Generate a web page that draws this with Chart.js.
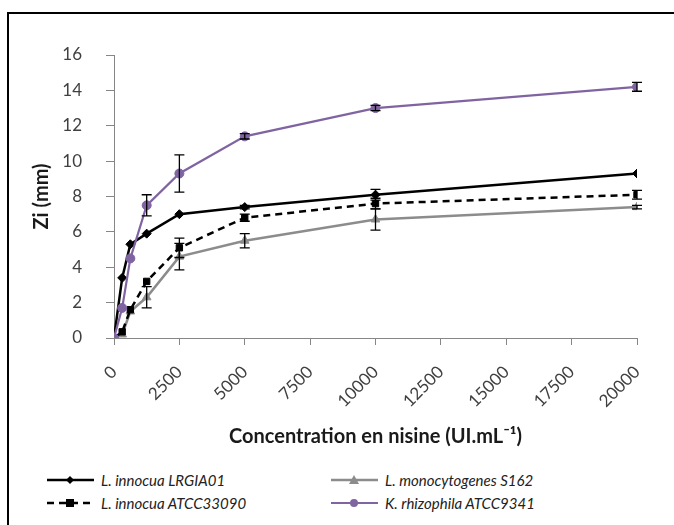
<!DOCTYPE html>
<html lang="fr">
<head>
<meta charset="UTF-8" />
<title>Zi vs nisine</title>
<script src="https://cdn.jsdelivr.net/npm/chart.js"></script>
<style>
  * { margin: 0; padding: 0; box-sizing: border-box; }
  body { width: 674px; height: 525px; background: #fff; position: relative; overflow: hidden; font-family: Lato, sans-serif; }
  .frame { position: absolute; left: 7px; top: 12px; width: 700px; height: 560px; border: 2px solid #000; }
  #wrap { position: absolute; left: 0; top: 0; width: 674px; height: 458px; }
  #legend { position: absolute; left: 46px; top: 471px; width: 620px; }
  .item { position: absolute; display: flex; align-items: center; font-style: italic; font-size: 15px; color: #222; white-space: nowrap; }
  .item svg { margin-right: 5px; }
</style>
</head>
<body>
<div class="frame"></div>
<div id="wrap"><canvas id="chart"></canvas></div>
<div id="legend"></div>

<script>
  // concentrations (UI/mL)
  const conc = [0, 312.5, 625, 1250, 2500, 5000, 10000, 20000];

  const seriesNames = ["L. innocua LRGIA01", "L. monocytogenes S162", "L. innocua ATCC33090", "K. rhizophila ATCC9341"];
  const lrgia01   = [0, 3.4, 5.3, 5.9, 7.0, 7.4, 8.1, 9.3];
  const s162      = [0, 0.2, 1.5, 2.3, 4.6, 5.5, 6.7, 7.4];
  const atcc33090 = [0, 0.35, 1.6, 3.2, 5.1, 6.8, 7.6, 8.1];
  const atcc9341  = [0, 1.7, 4.5, 7.5, 9.3, 11.4, 13.0, 14.2];

  // standard deviations
  const errLrgia01   = [0, 0, 0, 0, 0, 0.1, 0.3, 0];
  const errS162      = [0, 0, 0, 0.6, 0.75, 0.4, 0.6, 0.1];
  const errAtcc33090 = [0, 0, 0, 0, 0.55, 0.2, 0.3, 0.25];
  const errAtcc9341  = [0, 0, 0, 0.6, 1.05, 0.15, 0.15, 0.25];

  const xTicks = [0, 2500, 5000, 7500, 10000, 12500, 15000, 17500, 20000];

  const toPts = ys => conc.map((c, i) => ({ x: c, y: ys[i] }));

  const styles = [
    { color: "#000000", dash: [], point: "rectRot", radius: 4.5, width: 2.5 },
    { color: "#8c8c8c", dash: [], point: "triangle", radius: 5, width: 2.5 },
    { color: "#000000", dash: [7, 5], point: "rect", radius: 4.5, width: 2.5 },
    { color: "#8064a2", dash: [], point: "circle", radius: 4.5, width: 2.2 }
  ];
  const values = [lrgia01, s162, atcc33090, atcc9341];
  const errors = [errLrgia01, errS162, errAtcc33090, errAtcc9341];

  const datasets = seriesNames.map((name, i) => ({
    label: name,
    data: toPts(values[i]),
    borderColor: styles[i].color,
    backgroundColor: styles[i].color,
    borderWidth: styles[i].width,
    borderDash: styles[i].dash,
    pointStyle: styles[i].point,
    pointRadius: styles[i].radius,
    pointBorderWidth: 1,
    pointBorderColor: styles[i].color,
    pointBackgroundColor: styles[i].color,
    tension: 0,
    order: 4 - i,
    errs: errors[i]
  }));

  const errorBars = {
    id: "errorBars",
    afterDatasetsDraw(chart) {
      const { ctx, scales: { x, y } } = chart;
      ctx.save();
      ctx.strokeStyle = "#000";
      ctx.lineWidth = 1.3;
      chart.data.datasets.forEach(ds => {
        ds.data.forEach((p, i) => {
          const e = ds.errs[i];
          if (!e) return;
          const px = x.getPixelForValue(p.x);
          const top = y.getPixelForValue(p.y + e);
          const bot = y.getPixelForValue(p.y - e);
          ctx.beginPath();
          ctx.moveTo(px, top); ctx.lineTo(px, bot);
          ctx.moveTo(px - 5, top); ctx.lineTo(px + 5, top);
          ctx.moveTo(px - 5, bot); ctx.lineTo(px + 5, bot);
          ctx.stroke();
        });
      });
      ctx.restore();
    }
  };

  new Chart(document.getElementById("chart"), {
    type: "line",
    data: { datasets },
    plugins: [errorBars],
    options: {
      responsive: true,
      maintainAspectRatio: false,
      animation: false,
      layout: { padding: { left: 0, right: 37, top: 55, bottom: 0 } },
      plugins: { legend: { display: false }, tooltip: { enabled: false } },
      scales: {
        x: {
          type: "linear",
          min: 0, max: 20000,
          afterBuildTicks: axis => { axis.ticks = xTicks.map(v => ({ value: v })); },
          afterFit: scale => { scale.height = 120; },
          ticks: { minRotation: 45, maxRotation: 45, color: "#404040", font: { family: "Lato", size: 17 }, padding: 17,
                   callback: v => String(v) },
          grid: { drawOnChartArea: false, drawTicks: true, tickLength: 7, color: "#868686" },
          border: { display: true, color: "#868686", width: 1 },
          title: { display: true, text: "Concentration en nisine (UI.mL\u207B\u00B9)", color: "#1a1a1a", font: { family: "Lato", size: 20, weight: "bold" }, padding: { bottom: 9 } }
        },
        y: {
          min: 0, max: 16,
          afterFit: scale => { scale.width = 114; },
          ticks: { stepSize: 2, color: "#404040", font: { family: "Lato", size: 17 }, padding: 24 },
          grid: { drawOnChartArea: false, drawTicks: true, tickLength: 8, color: "#868686" },
          border: { display: true, color: "#868686", width: 1 },
          title: { display: true, text: "Zi (mm)", color: "#1a1a1a", font: { family: "Lato", size: 20, weight: "bold" }, padding: { top: 30 } }
        }
      }
    }
  });

  // legend, 2 x 2 like the original
  const legendPos = [[0, 0], [284, 0], [0, 23], [284, 23]];
  const legend = document.getElementById("legend");
  datasets.forEach((ds, i) => {
    const s = styles[i];
    const c = s.color;
    let mark;
    if (s.point === "rectRot") mark = `<polygon points="24,5 28,9 24,13 20,9" fill="${c}"/>`;
    else if (s.point === "rect") mark = `<rect x="20" y="5" width="8" height="8" fill="${c}"/>`;
    else if (s.point === "triangle") mark = `<polygon points="24,4 29,13 19,13" fill="${c}"/>`;
    else mark = `<circle cx="24" cy="9" r="4" fill="${c}"/>`;
    const div = document.createElement("div");
    div.className = "item";
    div.style.left = legendPos[i][0] + "px";
    div.style.top = legendPos[i][1] + "px";
    div.innerHTML = `<svg width="50" height="18"><line x1="1" y1="9" x2="48" y2="9" stroke="${c}" stroke-width="${s.width}" stroke-dasharray="${s.dash.join(" ")}"/>${mark}</svg><span>${ds.label}</span>`;
    legend.appendChild(div);
  });
</script>
</body>
</html>
